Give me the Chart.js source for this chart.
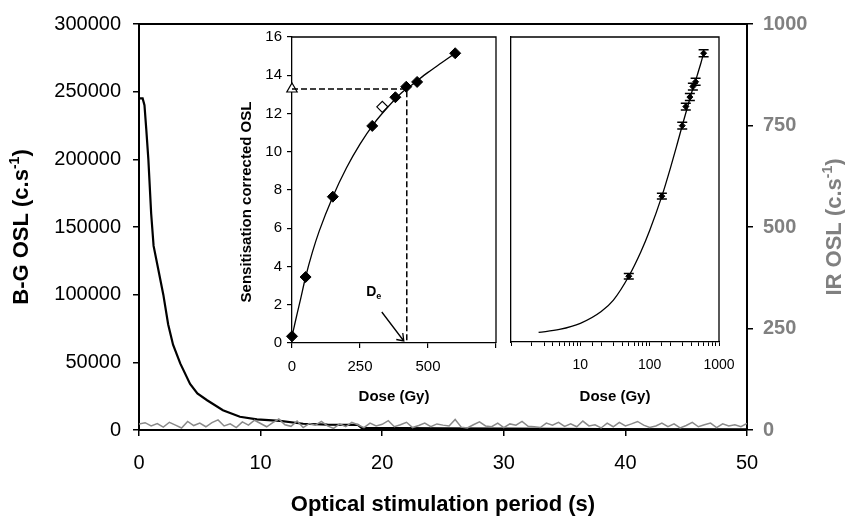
<!DOCTYPE html>
<html>
<head>
<meta charset="utf-8">
<script src="https://cdn.jsdelivr.net/npm/chart.js@4.4.0/dist/chart.umd.min.js"></script>
<style>
  html, body { margin: 0; padding: 0; background: #fff; overflow: hidden; }
  #wrap { position: relative; width: 845px; height: 520px; }
  canvas { position: absolute; }
</style>
</head>
<body>
<div id="wrap">
  <canvas id="mainChart" width="845" height="520" style="left:0;top:0"></canvas>
  <canvas id="doseChart" width="306" height="395" style="left:200px;top:20px"></canvas>
  <canvas id="logChart" width="250" height="395" style="left:500px;top:20px"></canvas>
</div>
<script>
var FONT = '"Liberation Sans", Arial, Helvetica, sans-serif';

// B-G OSL decay (time in s, counts per s)
var bgTime = [0, 0.3, 0.45, 0.6, 0.77, 1.0, 1.2, 1.6, 2.0, 2.4, 2.8, 3.4, 4.2, 4.8, 5.6, 6.9, 8.3, 9.7, 11.6, 13.5, 15.5, 18.0, 18.3, 25, 30, 38, 50];
var bgCounts = [245000, 245000, 240000, 222000, 200000, 160000, 136000, 118000, 100000, 78000, 63000, 49000, 34000, 27000, 22000, 14600, 9800, 7800, 6800, 4600, 4000, 3800, 1500, 1300, 1000, 700, 500];

// IR OSL, one reading every 0.5 s from 0 to 50 s
var irStep = 0.5;
var irCounts = [15, 18, 10, 16, 7, 19, 12, 5, 21, 11, 17, 8, 18, 25, 10, 15, 6, 20, 12, 24,
                16, 8, 18, 27, 13, 9, 22, 6, 16, 12, 21, 10, 4, 15, 8, 19, 13, 6, 17, 10,
                14, 23, 8, 13, 19, 6, 11, 17, 8, 15, 12, 10, 26, 7, 5, 13, 20, 10, 8, 17,
                6, 15, 12, 21, 9, 8, 6, 17, 12, 19, 9, 15, 8, 22, 10, 13, 5, 17, 8, 19,
                10, 15, 21, 12, 6, 10, 17, 8, 15, 5, 11, 19, 8, 13, 17, 6, 15, 10, 13, 8, 16];

// dose response (Gy, sensitisation corrected OSL)
var doseGiven = [0, 50, 150, 295, 380, 420, 460, 600];
var doseOsl = [0.35, 3.45, 7.65, 11.35, 12.85, 13.4, 13.65, 15.15];
var recycleDose = [332];
var recycleOsl = [12.35];
var naturalOsl = 13.28;
var equivDose = 422;

// fitted growth curve
var fitDose = [0, 2.5, 5, 10, 20, 30, 50, 75, 100, 150, 200, 250, 300, 350, 400, 450, 500, 550, 600];
var fitOsl = [0.35, 0.5, 0.66, 0.98, 1.6, 2.2, 3.45, 4.75, 5.85, 7.65, 9.15, 10.4, 11.45, 12.3, 13.05, 13.6, 14.15, 14.65, 15.15];

// log plot points with y errors
var logDose = [50, 150, 295, 332, 380, 420, 460, 600];
var logOsl = [3.45, 7.65, 11.35, 12.35, 12.85, 13.4, 13.65, 15.15];
var logErr = [0.15, 0.15, 0.18, 0.18, 0.18, 0.18, 0.18, 0.18];
var logLabels = [10, 100, 1000];

function toPoints(xs, ys) {
    return xs.map(function (x, i) { return { x: x, y: ys[i] }; });
}

// rotated title text with a raised or lowered part
function drawParts(ctx, parts, x, y, rotation, size, color) {
    ctx.save();
    ctx.translate(x, y);
    ctx.rotate(rotation);
    ctx.fillStyle = color;
    ctx.textBaseline = 'middle';
    ctx.textAlign = 'left';
    var small = Math.round(size * 0.62);
    var total = 0;
    parts.forEach(function (p) {
        ctx.font = 'bold ' + (p.shift ? small : size) + 'px ' + FONT;
        p.w = ctx.measureText(p.text).width;
        total += p.w;
    });
    var cx = -total / 2;
    parts.forEach(function (p) {
        ctx.font = 'bold ' + (p.shift ? small : size) + 'px ' + FONT;
        ctx.fillText(p.text, cx, (p.shift || 0) * size);
        cx += p.w;
    });
    ctx.restore();
}

var framePlugin = {
    id: 'frame',
    afterDraw: function (chart, args, opts) {
        var a = chart.chartArea, ctx = chart.ctx;
        ctx.save();
        ctx.strokeStyle = '#000';
        ctx.lineWidth = opts.width || 1.5;
        ctx.beginPath();
        ctx.moveTo(a.left, a.top);
        ctx.lineTo(a.right, a.top);
        if (opts.right) {
            ctx.lineTo(a.right, a.bottom);
        }
        ctx.stroke();
        ctx.restore();
    }
};

var mainTitles = {
    id: 'mainTitles',
    afterDraw: function (chart) {
        var ctx = chart.ctx, a = chart.chartArea;
        var cy = (a.top + a.bottom) / 2;
        drawParts(ctx, [{ text: 'B-G OSL (c.s' }, { text: '-1', shift: -0.32 }, { text: ')' }], 22, cy, -Math.PI / 2, 22, '#000');
        drawParts(ctx, [{ text: 'IR OSL (c.s' }, { text: '-1', shift: -0.32 }, { text: ')' }], 835, cy, -Math.PI / 2, 22, '#808080');
    }
};

var doseNotes = {
    id: 'doseNotes',
    afterDraw: function (chart) {
        var ctx = chart.ctx;
        drawParts(ctx, [{ text: 'Sensitisation corrected OSL' }], 47, 182, -Math.PI / 2, 15, '#000');

        var hx = chart.scales.x.getPixelForValue(equivDose) - 3;
        var hy = chart.scales.y.getPixelForValue(0) - 2;
        ctx.save();
        ctx.strokeStyle = '#000';
        ctx.lineWidth = 1.3;
        ctx.beginPath();
        ctx.moveTo(hx - 22, hy - 29);
        ctx.lineTo(hx, hy);
        ctx.moveTo(hx - 7.5, hy - 1.5);
        ctx.lineTo(hx, hy);
        ctx.lineTo(hx - 1, hy - 8);
        ctx.stroke();
        ctx.restore();
        drawParts(ctx, [{ text: 'D' }, { text: 'e', shift: 0.3 }], hx - 30, hy - 49, 0, 14, '#000');
    }
};

var errorBars = {
    id: 'errorBars',
    afterDatasetsDraw: function (chart) {
        var xs = chart.scales.x, ys = chart.scales.y, ctx = chart.ctx;
        ctx.save();
        ctx.strokeStyle = '#000';
        ctx.lineWidth = 1.5;
        logDose.forEach(function (d, i) {
            var px = xs.getPixelForValue(d);
            var top = ys.getPixelForValue(logOsl[i] + logErr[i]);
            var bot = ys.getPixelForValue(logOsl[i] - logErr[i]);
            ctx.beginPath();
            ctx.moveTo(px, top); ctx.lineTo(px, bot);
            ctx.moveTo(px - 5, top); ctx.lineTo(px + 5, top);
            ctx.moveTo(px - 5, bot); ctx.lineTo(px + 5, bot);
            ctx.stroke();
        });
        ctx.restore();
    }
};

// main chart: decay curves
var bgPoints = toPoints(bgTime, bgCounts);
var irPoints = irCounts.map(function (c, i) { return { x: i * irStep, y: c }; });

new Chart(document.getElementById('mainChart'), {
    type: 'scatter',
    data: {
        datasets: [
            { data: irPoints, yAxisID: 'y2', showLine: true, borderColor: '#8a8a8a', borderWidth: 1.5, pointRadius: 0, order: 0 },
            { data: bgPoints, yAxisID: 'y', showLine: true, borderColor: '#000', borderWidth: 2.2, pointRadius: 0, order: 1 }
        ]
    },
    options: {
        responsive: false,
        animation: false,
        layout: { padding: { top: 20, left: 0, right: 0, bottom: 0 } },
        plugins: { legend: { display: false }, tooltip: { enabled: false }, frame: { width: 2 } },
        scales: {
            x: {
                type: 'linear', min: 0, max: 50,
                ticks: { stepSize: 10, color: '#000', padding: 15, font: { family: FONT, size: 20 } },
                grid: { drawOnChartArea: false, color: '#000', lineWidth: 1.5, tickLength: 6 },
                border: { color: '#000', width: 2 },
                title: { display: true, text: 'Optical stimulation period (s)', color: '#000', padding: { top: 0, bottom: 2 }, font: { family: FONT, size: 22, weight: 'bold' } },
                afterFit: function (s) { s.height = 90; }
            },
            y: {
                position: 'left', min: 0, max: 300000,
                ticks: { stepSize: 50000, color: '#000', padding: 12, font: { family: FONT, size: 20 }, callback: function (v) { return String(v); } },
                grid: { drawOnChartArea: false, color: '#000', lineWidth: 1.5, tickLength: 6 },
                border: { color: '#000', width: 2 },
                afterFit: function (s) { s.width = 139; }
            },
            y2: {
                position: 'right', min: 0, max: 1000,
                ticks: { stepSize: 250, color: '#808080', padding: 10, font: { family: FONT, size: 20, weight: 'bold' }, callback: function (v) { return String(v); } },
                grid: { drawOnChartArea: false, color: '#000', lineWidth: 1.5, tickLength: 6 },
                border: { color: '#000', width: 2 },
                afterFit: function (s) { s.width = 98; }
            }
        }
    },
    plugins: [framePlugin, mainTitles]
});

// inset 1: dose response, linear
var insetTicks = { color: '#000', font: { family: FONT, size: 15 } };
var insetGrid = { drawOnChartArea: false, color: '#000', lineWidth: 1.2, tickLength: 5 };

new Chart(document.getElementById('doseChart'), {
    type: 'scatter',
    data: {
        datasets: [
            { data: toPoints([0, equivDose, equivDose], [naturalOsl, naturalOsl, 0]), showLine: true, borderColor: '#000', borderWidth: 1.5, borderDash: [6, 3], pointRadius: 0, clip: false },
            { data: toPoints(fitDose, fitOsl), showLine: true, borderColor: '#000', borderWidth: 1.3, pointRadius: 0, cubicInterpolationMode: 'monotone' },
            { data: toPoints(doseGiven, doseOsl), pointStyle: 'rectRot', pointRadius: 5.5, backgroundColor: '#000', borderColor: '#000', borderWidth: 1, clip: false },
            { data: toPoints(recycleDose, recycleOsl), pointStyle: 'rectRot', pointRadius: 5.5, backgroundColor: '#fff', borderColor: '#000', borderWidth: 1.2 },
            { data: [{ x: 0, y: naturalOsl }], pointStyle: 'triangle', pointRadius: 6, backgroundColor: '#fff', borderColor: '#000', borderWidth: 1.2, clip: false }
        ]
    },
    options: {
        responsive: false,
        animation: false,
        layout: { padding: { top: 17, left: 0, right: 1, bottom: 0 } },
        plugins: { legend: { display: false }, tooltip: { enabled: false }, frame: { width: 1.3, right: true } },
        scales: {
            x: {
                type: 'linear', min: 0, max: 750,
                ticks: Object.assign({ stepSize: 250, padding: 10, callback: function (v) { return v === 750 ? '' : String(v); } }, insetTicks),
                grid: insetGrid,
                border: { color: '#000', width: 1.3 },
                title: { display: true, text: 'Dose (Gy)', color: '#000', padding: { top: 0, bottom: 9 }, font: { family: FONT, size: 15, weight: 'bold' } },
                afterFit: function (s) { s.height = 72; }
            },
            y: {
                min: 0, max: 16,
                ticks: Object.assign({ stepSize: 2, padding: 5 }, insetTicks),
                grid: insetGrid,
                border: { color: '#000', width: 1.3 },
                afterFit: function (s) { s.width = 92; }
            }
        }
    },
    plugins: [framePlugin, doseNotes]
});

// inset 2: same growth curve against log dose
new Chart(document.getElementById('logChart'), {
    type: 'scatter',
    data: {
        datasets: [
            { data: toPoints(fitDose, fitOsl).filter(function (p) { return p.x > 0; }), showLine: true, borderColor: '#000', borderWidth: 1.3, pointRadius: 0, cubicInterpolationMode: 'monotone' },
            { data: toPoints(logDose, logOsl), pointStyle: 'rectRot', pointRadius: 3, backgroundColor: '#000', borderColor: '#000' }
        ]
    },
    options: {
        responsive: false,
        animation: false,
        layout: { padding: { top: 17, left: 0, right: 31, bottom: 0 } },
        plugins: { legend: { display: false }, tooltip: { enabled: false }, frame: { width: 1.3, right: true } },
        scales: {
            x: {
                type: 'logarithmic', min: 1, max: 1000,
                ticks: { autoSkip: false, maxRotation: 0, padding: 11, color: '#000', font: { family: FONT, size: 14 },
                         callback: function (v) { return logLabels.indexOf(v) >= 0 ? String(v) : ''; } },
                grid: { drawOnChartArea: false, color: '#000', lineWidth: 1, tickLength: 4 },
                border: { color: '#000', width: 1.3 },
                title: { display: true, text: 'Dose (Gy)', color: '#000', padding: { top: 0, bottom: 9 }, font: { family: FONT, size: 15, weight: 'bold' } },
                afterFit: function (s) { s.height = 73; }
            },
            y: {
                min: 0, max: 16,
                ticks: { display: false },
                grid: { display: false },
                border: { color: '#000', width: 1.3 },
                afterFit: function (s) { s.width = 8.5; }
            }
        }
    },
    plugins: [framePlugin, errorBars]
});
</script>
</body>
</html>
